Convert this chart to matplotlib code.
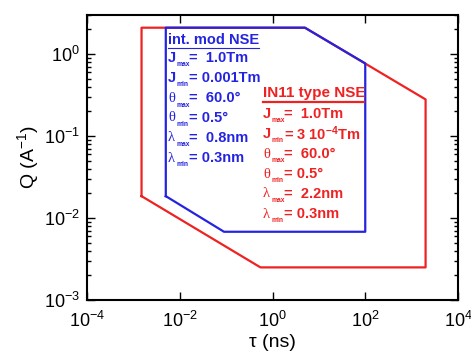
import numpy as np
import matplotlib
matplotlib.use("Agg")
import matplotlib.pyplot as plt
from matplotlib.lines import Line2D

plt.rcParams['font.family'] = ['Liberation Sans', 'DejaVu Sans']
plt.rcParams['mathtext.fontset'] = 'custom'
plt.rcParams['mathtext.rm'] = 'Liberation Sans'
plt.rcParams['mathtext.bf'] = 'Liberation Sans:bold'
plt.rcParams['mathtext.it'] = 'Liberation Sans:italic'

# window of the IN11 type NSE (tau in ns, Q in 1/A)
red_tau = [1.5e-3, 1.5e-3, 5, 2000, 2000, 0.55, 1.5e-3]
red_q = [0.0185, 2.1, 2.1, 0.28, 0.0025, 0.0025, 0.0185]

# window of the intensity modulated NSE
blue_tau = [5e-3, 5e-3, 5, 100, 100, 0.09, 5e-3]
blue_q = [0.0185, 2.1, 2.1, 0.77, 0.0068, 0.0068, 0.0185]

blue_title = "int. mod NSE"
blue_lines = [("J", "max", "=  1.0Tm"),
              ("J", "min", "= 0.001Tm"),
              ("θ", "max", "=  60.0°"),
              ("θ", "min", "= 0.5°"),
              ("λ", "max", "=  0.8nm"),
              ("λ", "min", "= 0.3nm")]

red_title = "IN11 type NSE"
red_lines = [("J", "max", "=  1.0Tm"),
             ("J", "min", r"= 3 10$^{\mathbf{-4}}$Tm"),
             ("θ", "max", "=  60.0°"),
             ("θ", "min", "= 0.5°"),
             ("λ", "max", "=  2.2nm"),
             ("λ", "min", "= 0.3nm")]

RED = '#ee2222'
BLUE = '#2424e0'
W, H = 471, 357

fig = plt.figure(figsize=(4.71, 3.57), dpi=100)
ax = fig.add_axes([87 / W, 1 - 300 / H, 371 / W, 285 / H])

ax.plot(red_tau, red_q, color=RED, lw=1.6)
ax.plot(blue_tau, blue_q, color=BLUE, lw=1.6)

ax.set_xscale('log')
ax.set_yscale('log')
ax.set_xlim(1e-4, 1e4)
ax.set_ylim(1e-3, 3)
ax.set_xticks([1e-4, 1e-2, 1e0, 1e2, 1e4])
ax.set_yticks([1e-3, 1e-2, 1e-1, 1e0])
ax.tick_params(which='both', direction='in', top=True, right=True, width=1.0)
ax.tick_params(which='major', length=6, labelsize=13)
ax.tick_params(axis='x', which='major', pad=8)
ax.tick_params(axis='y', which='major', pad=5)
ax.tick_params(which='minor', length=3)
for s in ax.spines.values():
    s.set_linewidth(1.5)

ax.set_xlabel("τ (ns)", fontsize=14, labelpad=2)
ax.set_ylabel(r"Q (A$^{-1}$)", fontsize=14, labelpad=2)


def fpos(x, y):
    return x / W, 1 - y / H


def block(x0, y0, first, title, lines, color, tsize):
    t = fig.text(*fpos(x0, y0), title, color=color, fontsize=tsize,
                 fontweight='bold', ha='left', va='center')
    for i, (sym, sub, rest) in enumerate(lines):
        y = y0 + first + 20 * i
        if sym == "J":
            fig.text(*fpos(x0, y), sym, color=color, fontsize=10.5,
                     fontweight='bold', ha='left', va='center')
        else:
            fig.text(*fpos(x0, y), sym, color=color, fontsize=10.5,
                     family='Liberation Serif', ha='left', va='center')
        fig.text(*fpos(x0 + 8.5, y + 7), sub, color=color, fontsize=4.8,
                 fontweight='bold', ha='left', va='center')
        fig.text(*fpos(x0 + 21, y), rest, color=color, fontsize=10.5,
                 fontweight='bold', ha='left', va='center')
    return t


tb = block(168, 40, 18, blue_title, blue_lines, BLUE, 10.5)
tr = block(263, 93, 21, red_title, red_lines, RED, 11)

fig.canvas.draw()
bb = tb.get_window_extent()
fig.add_artist(Line2D([bb.x0 / W, bb.x1 / W], [(bb.y0 - 1) / H] * 2,
                      color=BLUE, lw=0.8))
bb = tr.get_window_extent()
fig.add_artist(Line2D([bb.x0 / W, 364 / W], [(bb.y0 - 2) / H] * 2,
                      color=RED, lw=1.6))

fig.savefig("out.png", dpi=100)
